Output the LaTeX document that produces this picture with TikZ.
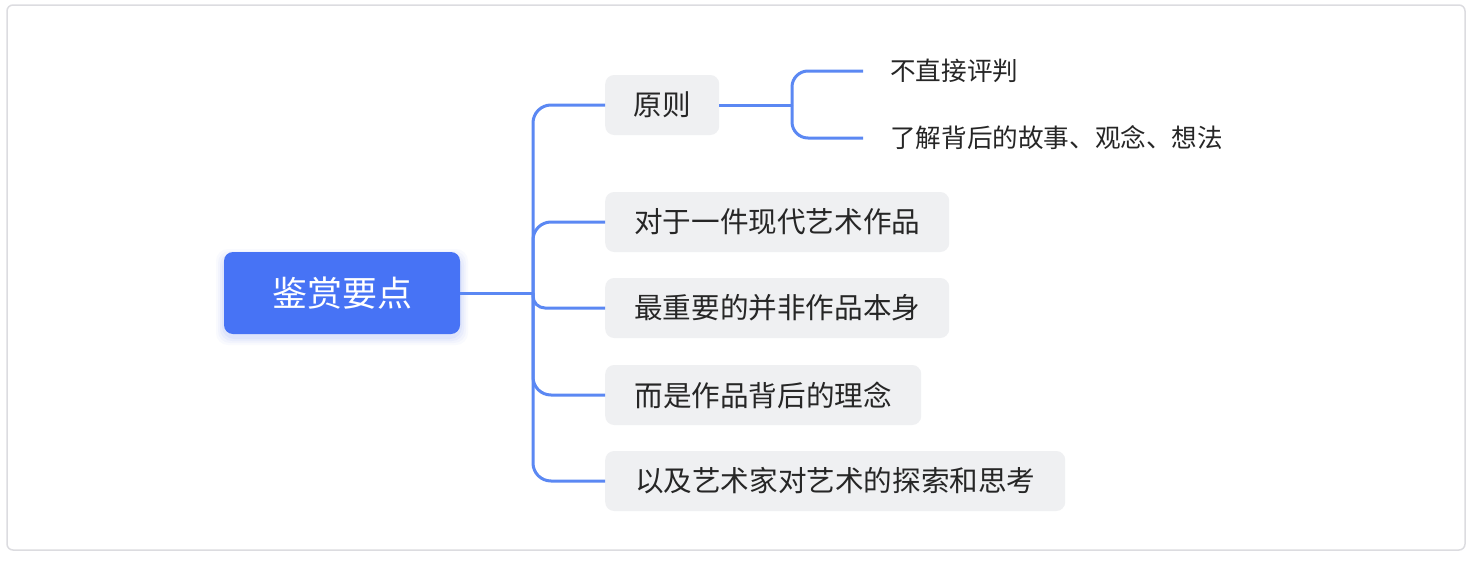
\documentclass[tikz,border=0pt]{standalone}
\usepackage{fontspec}
\setmainfont{Noto Sans CJK SC}
\definecolor{rootc}{HTML}{4773F5}
\definecolor{linec}{HTML}{5B88F3}
\definecolor{childbg}{HTML}{EFF0F2}
\definecolor{borderc}{HTML}{DCDCE0}
\definecolor{txt}{HTML}{262626}
\begin{document}
\begin{tikzpicture}[x=1pt,y=-1pt,
  conn/.style={draw=linec, line width=3pt},
  rootbox/.style={fill=rootc, rounded corners=9pt, minimum width=236pt, minimum height=82pt, inner sep=0pt, text=white, font=\fontsize{35}{40}\selectfont},
  childbox/.style={fill=childbg, rounded corners=9pt, minimum height=60pt, inner sep=0pt, anchor=west, text=txt, font=\fontsize{28.6}{34}\selectfont},
  leaf/.style={anchor=west, inner xsep=27pt, inner ysep=0pt, text=txt, font=\fontsize{25.6}{30}\selectfont},
]
\useasboundingbox (0,0) rectangle (1476,562);
\draw[draw=borderc, line width=1.5pt, rounded corners=6pt, fill=white] (7,5) rectangle (1465,550);
% glow under root
\foreach \i/\o in {8/0.03,6/0.04,4/0.05,2/0.06}{
  \fill[rootc, opacity=\o, rounded corners=12pt] (224-\i,254-\i+3) rectangle (460+\i,334+\i+3);
}
\node[rootbox] (root) at (342,293) {鉴赏要点};
\node[childbox, minimum width=114pt] (c1) at (605,105) {原则};
\node[childbox, minimum width=344pt] (c2) at (605,222) {对于一件现代艺术作品};
\node[childbox, minimum width=344pt] (c3) at (605,308) {最重要的并非作品本身};
\node[childbox, minimum width=316pt] (c4) at (605,395) {而是作品背后的理念};
\node[childbox, minimum width=460pt] (c5) at (605,481) {以及艺术家对艺术的探索和思考};
\node[leaf] (l1) at (863,71) {不直接评判};
\node[leaf] (l2) at (863,138) {了解背后的故事、观念、想法};
\coordinate (J) at (533,293);
\coordinate (K) at (792,105);
\draw[conn] (root.east) -- (J);
\draw[conn, rounded corners=18pt] (J) |- (c1.west);
\draw[conn, rounded corners=18pt] (J) |- (c2.west);
\draw[conn, rounded corners=12pt] (J) |- (c3.west);
\draw[conn, rounded corners=18pt] (J) |- (c4.west);
\draw[conn, rounded corners=18pt] (J) |- (c5.west);
\draw[conn] (c1.east) -- (K);
\draw[conn, rounded corners=16pt] (K) |- (l1.west);
\draw[conn, rounded corners=16pt] (K) |- (l2.west);
\end{tikzpicture}
\end{document}
